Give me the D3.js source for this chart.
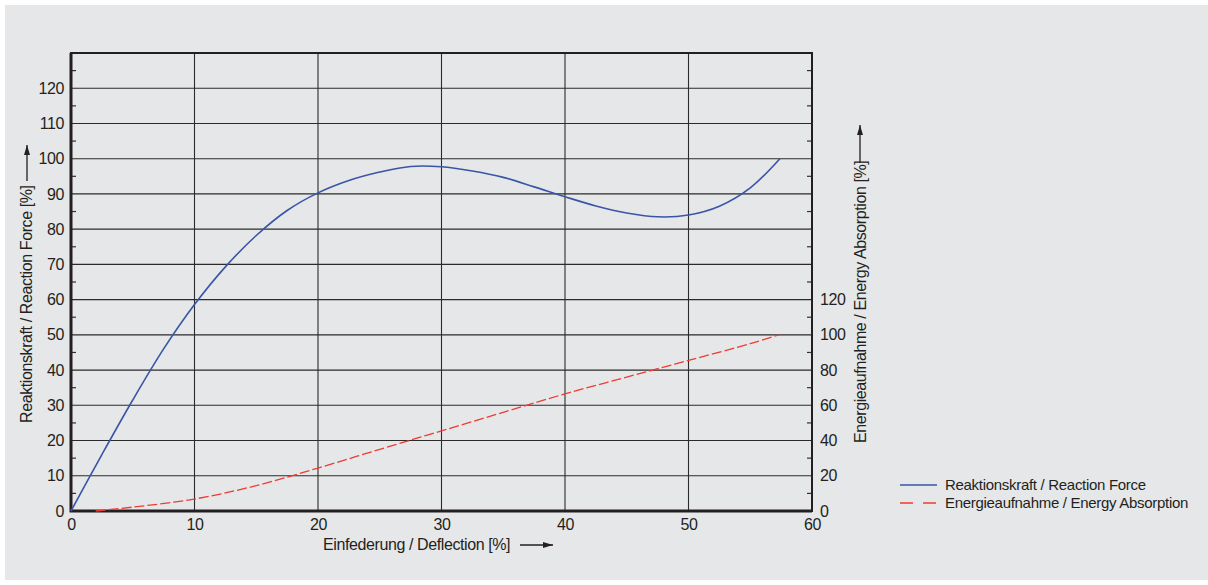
<!DOCTYPE html>
<html lang="de">
<head>
<meta charset="UTF-8">
<title>Reaktionskraft / Energieaufnahme</title>
<style>
  body { margin: 0; background: #fff; }
  svg text { font-family: "Liberation Sans", Arial, sans-serif; fill: #231f20; }
</style>
</head>
<body>
<svg id="chart" width="1208" height="585"></svg>
<script src="https://d3js.org/d3.v7.min.js"></script>
<script>
// deflection [%] vs reaction force [%]
const forceX = [0, 2.5, 5, 7.5, 10, 12.5, 15, 17.5, 20, 22.5, 25, 27.5, 30, 32.5, 35, 37.5, 40, 42.5, 45, 47.5, 50, 52.5, 55, 57.4];
const forceY = [0, 16, 31.5, 46, 58.6, 69.3, 78.2, 85.3, 90.3, 93.8, 96.2, 97.8, 97.7, 96.5, 94.7, 92.0, 89.2, 86.6, 84.6, 83.5, 84.0, 86.5, 91.7, 100];

// deflection [%] vs energy absorption [%] (right axis)
const energyX = [2, 5, 10, 15, 20, 25, 30, 35, 40, 45, 50, 55, 57.3];
const energyY = [0, 2.2, 6.8, 14.4, 24.4, 35, 45.5, 56, 66.5, 76, 85.5, 95, 100];

const xTicks = [0, 10, 20, 30, 40, 50, 60];
const yTicks = [0, 10, 20, 30, 40, 50, 60, 70, 80, 90, 100, 110, 120];
const yRightTicks = [0, 20, 40, 60, 80, 100, 120];

const legendLabels = ["Reaktionskraft / Reaction Force", "Energieaufnahme / Energy Absorption"];

const svg = d3.select("#chart");
const pLeft = 71, pRight = 812, pTop = 53, pBottom = 511;

const x = d3.scaleLinear().domain([0, 60]).range([pLeft, pRight]);
const y = d3.scaleLinear().domain([0, 130]).range([pBottom, pTop]);
const yR = d3.scaleLinear().domain([0, 260]).range([pBottom, pTop]);

// background
svg.append("rect").attr("x", 5).attr("y", 5).attr("width", 1203).attr("height", 575).attr("fill", "#e6e7e9");

// grid
const grid = svg.append("g").attr("stroke", "#2b2b2b").attr("stroke-width", 1.1);
grid.selectAll("line.h").data(yTicks.slice(1)).join("line")
  .attr("x1", pLeft).attr("x2", pRight)
  .attr("y1", d => y(d)).attr("y2", d => y(d));
grid.selectAll("line.v").data(xTicks.slice(1, -1)).join("line")
  .attr("y1", pTop).attr("y2", pBottom)
  .attr("x1", d => x(d)).attr("x2", d => x(d));

// minor ticks on both sides
const minor = d3.range(5, 130, 10);
const mt = svg.append("g").attr("stroke", "#333").attr("stroke-width", 1.2);
mt.selectAll("line.l").data(minor).join("line")
  .attr("x1", pLeft).attr("x2", pLeft + 5)
  .attr("y1", d => y(d)).attr("y2", d => y(d));
mt.selectAll("line.r").data(minor).join("line")
  .attr("x1", pRight).attr("x2", pRight - 5)
  .attr("y1", d => y(d)).attr("y2", d => y(d));

// frame
svg.append("rect").attr("x", pLeft).attr("y", pTop)
  .attr("width", pRight - pLeft).attr("height", pBottom - pTop)
  .attr("fill", "none").attr("stroke", "#231f20").attr("stroke-width", 2);
svg.append("path")
  .attr("d", `M${pLeft},${pTop}V${pBottom}H${pRight}`)
  .attr("fill", "none").attr("stroke", "#231f20").attr("stroke-width", 3);

// axes labels
const fs = "16px", ls = "-0.4px";
const axL = svg.append("g").attr("transform", `translate(${pLeft},0)`)
  .call(d3.axisLeft(y).tickValues(yTicks).tickSize(0).tickPadding(7));
const axR = svg.append("g").attr("transform", `translate(${pRight},0)`)
  .call(d3.axisRight(yR).tickValues(yRightTicks).tickSize(0).tickPadding(8));
const axB = svg.append("g").attr("transform", `translate(0,${pBottom})`)
  .call(d3.axisBottom(x).tickValues(xTicks).tickSize(0).tickPadding(8));
[axL, axR, axB].forEach(a => {
  a.select(".domain").remove();
  a.selectAll("text").attr("font-size", fs).attr("letter-spacing", ls)
    .attr("fill", "#231f20").attr("font-family", null);
});

// arrow marker
svg.append("defs").append("marker")
  .attr("id", "arr").attr("viewBox", "0 0 10 6").attr("refX", 10).attr("refY", 3)
  .attr("markerWidth", 10).attr("markerHeight", 6).attr("markerUnits", "userSpaceOnUse")
  .attr("orient", "auto")
  .append("path").attr("d", "M0,0L10,3L0,6z").attr("fill", "#231f20");

// axis titles
svg.append("text").attr("x", 323).attr("y", 550)
  .attr("font-size", fs).attr("letter-spacing", ls)
  .text("Einfederung / Deflection [%]");
svg.append("line").attr("x1", 520).attr("x2", 553).attr("y1", 545).attr("y2", 545)
  .attr("stroke", "#231f20").attr("stroke-width", 1.3).attr("marker-end", "url(#arr)");

svg.append("text").attr("transform", "translate(32,423) rotate(-90)")
  .attr("font-size", fs).attr("letter-spacing", ls)
  .text("Reaktionskraft / Reaction Force [%]");
svg.append("line").attr("x1", 27).attr("x2", 27).attr("y1", 181).attr("y2", 145)
  .attr("stroke", "#231f20").attr("stroke-width", 1.3).attr("marker-end", "url(#arr)");

svg.append("text").attr("transform", "translate(866,443) rotate(-90)")
  .attr("font-size", fs).attr("letter-spacing", ls)
  .text("Energieaufnahme / Energy Absorption [%]");
svg.append("line").attr("x1", 860).attr("x2", 860).attr("y1", 163).attr("y2", 125)
  .attr("stroke", "#231f20").attr("stroke-width", 1.3).attr("marker-end", "url(#arr)");

// curves
const forceData = forceX.map((d, i) => [d, forceY[i]]);
const energyData = energyX.map((d, i) => [d, energyY[i]]);

svg.append("path").datum(forceData)
  .attr("fill", "none").attr("stroke", "#3955a6").attr("stroke-width", 1.6)
  .attr("d", d3.line().x(d => x(d[0])).y(d => y(d[1])).curve(d3.curveCatmullRom.alpha(0.5)));

svg.append("path").datum(energyData)
  .attr("fill", "none").attr("stroke", "#ee3b33").attr("stroke-width", 1.3)
  .attr("stroke-dasharray", "10,3")
  .attr("d", d3.line().x(d => x(d[0])).y(d => yR(d[1])).curve(d3.curveCatmullRom.alpha(0.5)));

// legend
const legend = svg.append("g");
const lg = legend.selectAll("g").data(legendLabels).join("g")
  .attr("transform", (d, i) => `translate(900,${485 + i * 18})`);
lg.append("line").attr("x1", 0).attr("x2", 37)
  .attr("stroke", (d, i) => i === 0 ? "#3955a6" : "#ee3b33")
  .attr("stroke-width", 1.3)
  .attr("stroke-dasharray", (d, i) => i === 0 ? null : "13,10");
lg.append("text").attr("x", 45).attr("dy", "0.35em")
  .attr("font-size", "15px").attr("letter-spacing", "-0.3px")
  .text(d => d);
</script>
</body>
</html>
